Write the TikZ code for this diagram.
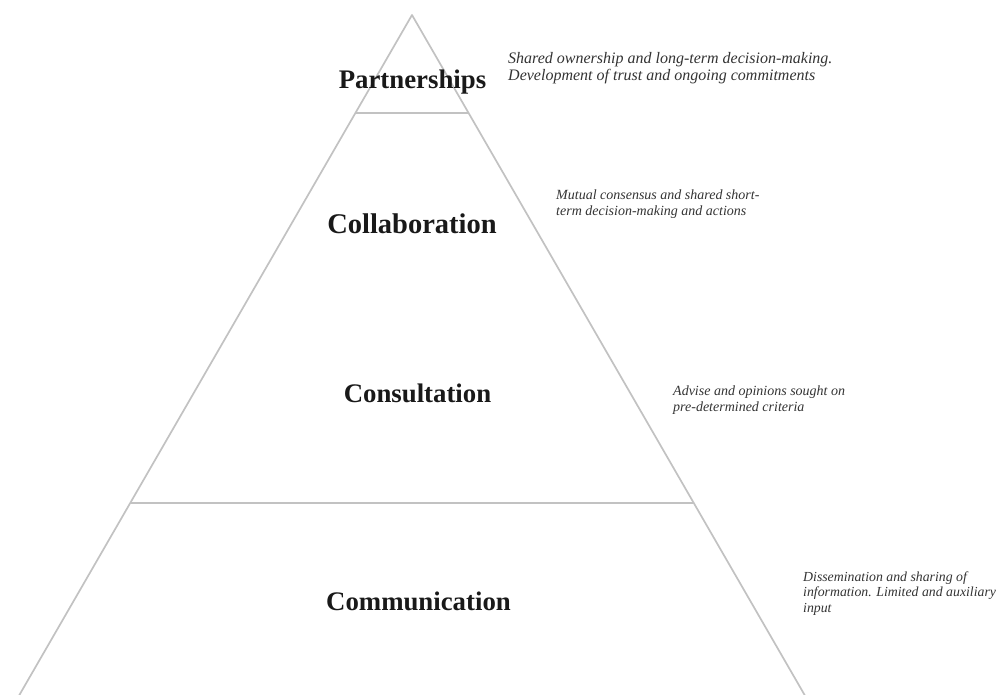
\documentclass[tikz,border=0pt]{standalone}
\usepackage{fontspec}
\setmainfont{Liberation Serif}
\begin{document}
\begin{tikzpicture}[x=1pt,y=1pt,
  edge/.style={draw=black!24,line width=1.7pt},
  level/.style={font=\bfseries\fontsize{#1}{30}\selectfont,text=black!90,inner sep=0pt},
  level/.default=26.8,
  desc/.style={font=\itshape\fontsize{#1}{#1}\selectfont,text=black!80,align=left,anchor=west,inner sep=0pt},
  desc/.default=13.8]
\useasboundingbox (0,0) rectangle (1005,-695);
\begin{scope}
\clip (0,0) rectangle (1005,-695);
\coordinate (apex) at (412,-15);
\coordinate (bl) at (412-0.5774*700,-715);
\coordinate (br) at (412+0.5774*700,-715);
\draw[edge,line join=round] (bl) -- (apex) -- (br);
\coordinate (p1) at (412-0.5774*98,-113);
\coordinate (p2) at (412+0.5774*98,-113);
\coordinate (c1) at (412-0.5774*488,-503);
\coordinate (c2) at (412+0.5774*488,-503);
\draw[edge] (p1) -- (p2);
\draw[edge] (c1) -- (c2);
\end{scope}
\node[level] (part) at (412.5,-82) {Partnerships};
\node[level=28.5] (coll) at (412,-224) {Collaboration};
\node[level] (cons) at (417.5,-393) {Consultation};
\node[level] (comm) at (418.5,-601) {Communication};
\node[desc=16] (d1) at (508,-68) {Shared ownership and long-term decision-making.\\[1pt]Development of trust and ongoing commitments};
\node[desc=14] (d2) at (556,-204) {Mutual consensus and shared short-\\[2pt]term decision-making and actions};
\node[desc=14] (d3) at (673,-400) {Advise and opinions sought on\\[2pt]pre-determined criteria};
\node[desc=13.8] (d4) at (803,-593.5) {Dissemination and sharing of\\[1.5pt]information. Limited and auxiliary\\[1.5pt]input};
\end{tikzpicture}
\end{document}
